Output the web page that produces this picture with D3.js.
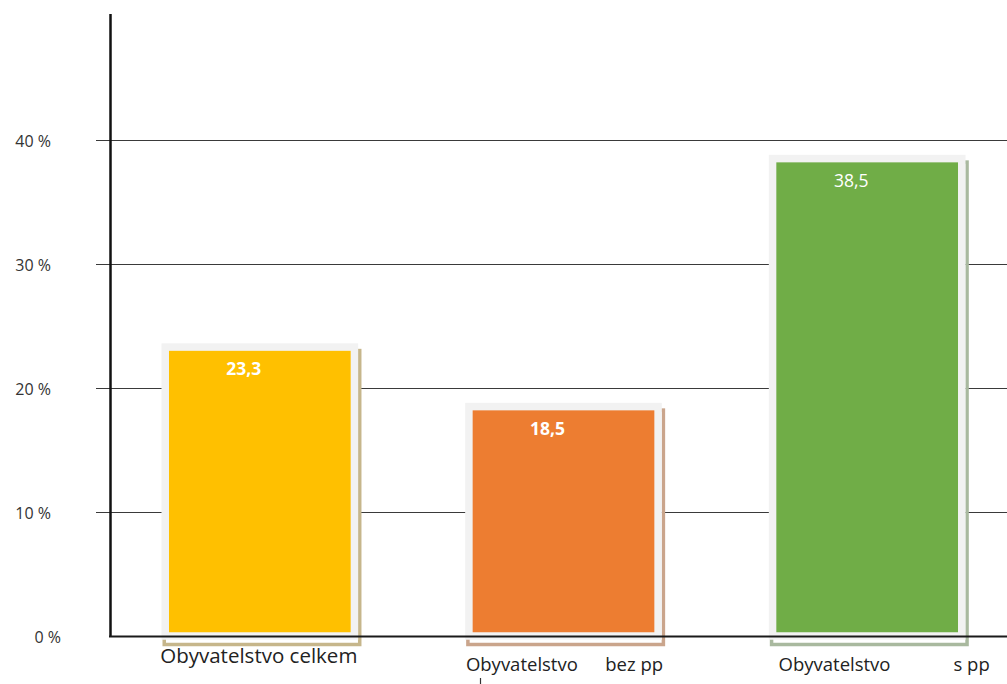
<!DOCTYPE html>
<html>
<head>
<meta charset="utf-8">
<script src="https://cdn.jsdelivr.net/npm/d3@7"></script>
<style>
  body { margin: 0; background: #fff; }
  svg { display: block; font-family: "Open Sans", "Noto Sans", sans-serif; }
</style>
</head>
<body>
<div id="chart"></div>
<script>
// chart data
const categories = ['celkem', 'bez pp', 's pp'];
const values = [23.3, 18.5, 38.5];
const valueLabels = ['23,3', '18,5', '38,5'];
const categoryLabels = [['Obyvatelstvo celkem'], ['Obyvatelstvo', 'bez pp'], ['Obyvatelstvo', 's pp']];
const yTicks = [0, 10, 20, 30, 40];
const yTickLabels = ['0 %', '10 %', '20 %', '30 %', '40 %'];

// styles
const barColors = ['#ffc000', '#ed7d31', '#70ad47'];
const shadowColors = ['#c6b68b', '#caa58c', '#a9b99f'];
const labelWeights = ['bold', 'bold', 'normal'];

const width = 1007;
const height = 684;

const svg = d3.select('#chart')
  .append('svg')
  .attr('width', width)
  .attr('height', height);

const y = d3.scaleLinear().domain([0, 50]).range([636, 16]);
const x = d3.scaleBand()
  .domain(categories)
  .range([108, 1019])
  .paddingInner(0.377)
  .paddingOuter(0.1885);

// gridlines
svg.selectAll('.grid')
  .data(yTicks.filter(d => d > 0))
  .join('line')
  .attr('class', 'grid')
  .attr('x1', 96)
  .attr('x2', width)
  .attr('y1', d => y(d) + 0.5)
  .attr('y2', d => y(d) + 0.5)
  .attr('stroke', '#3a3a3a')
  .attr('stroke-width', 1);

// tick labels
svg.selectAll('.tick-label')
  .data(yTicks)
  .join('text')
  .attr('class', 'tick-label')
  .attr('x', d => d === 0 ? 61 : 51)
  .attr('y', d => y(d) + 6.5)
  .attr('text-anchor', 'end')
  .attr('font-size', 16)
  .attr('fill', '#333')
  .text((d, i) => yTickLabels[i]);

const bars = svg.selectAll('.bar')
  .data(values)
  .join('g')
  .attr('class', 'bar');

// drop shadow
bars.append('rect')
  .attr('x', (d, i) => x(categories[i]) - 1)
  .attr('y', d => y(d) + 3.5)
  .attr('width', x.bandwidth() + 6.3)
  .attr('height', d => y(0) - y(d) + 5)
  .attr('fill', 'none')
  .attr('stroke', (d, i) => shadowColors[i])
  .attr('stroke-width', 3.5);

// bar with light frame
bars.append('rect')
  .attr('x', (d, i) => x(categories[i]))
  .attr('y', d => y(d))
  .attr('width', x.bandwidth())
  .attr('height', d => y(0) - y(d))
  .attr('fill', (d, i) => barColors[i])
  .attr('stroke', '#f2f2f2')
  .attr('stroke-width', 7.5);

bars.append('text')
  .attr('x', (d, i) => x(categories[i]) + x.bandwidth() / 2 - 16)
  .attr('y', d => y(d) + 28)
  .attr('text-anchor', 'middle')
  .attr('font-size', 17.5)
  .attr('font-weight', (d, i) => labelWeights[i])
  .attr('fill', '#fff')
  .text((d, i) => valueLabels[i]);

// axes
svg.append('line')
  .attr('x1', 110.5).attr('x2', 110.5)
  .attr('y1', 14).attr('y2', y(0) + 1)
  .attr('stroke', '#111')
  .attr('stroke-width', 2.5);

svg.append('line')
  .attr('x1', 109).attr('x2', width)
  .attr('y1', y(0) + 0.5).attr('y2', y(0) + 0.5)
  .attr('stroke', '#1a1a1a')
  .attr('stroke-width', 2.2);

// category labels: first part from the band start, second part aligned to the right
const labelLeft = [-5, -3, 6];
const labelRight = [0, 5, 28];
const labelBaseline = [663, 671, 671];
const labelSizes = [20.5, 18.5, 18.5];

categoryLabels.forEach((parts, i) => {
  const x0 = x(categories[i]);
  svg.append('text')
    .attr('x', x0 + labelLeft[i])
    .attr('y', labelBaseline[i])
    .attr('font-size', labelSizes[i])
    .attr('fill', '#222')
    .text(parts[0]);
  if (parts[1]) {
    svg.append('text')
      .attr('x', x0 + x.bandwidth() + labelRight[i])
      .attr('y', labelBaseline[i])
      .attr('text-anchor', 'end')
      .attr('font-size', labelSizes[i])
      .attr('fill', '#222')
      .text(parts[1]);
  }
});

// cut-off mark under the second label
svg.append('line')
  .attr('x1', 480.5).attr('x2', 480.5)
  .attr('y1', 678).attr('y2', height)
  .attr('stroke', '#333')
  .attr('stroke-width', 1.2);
</script>
</body>
</html>
